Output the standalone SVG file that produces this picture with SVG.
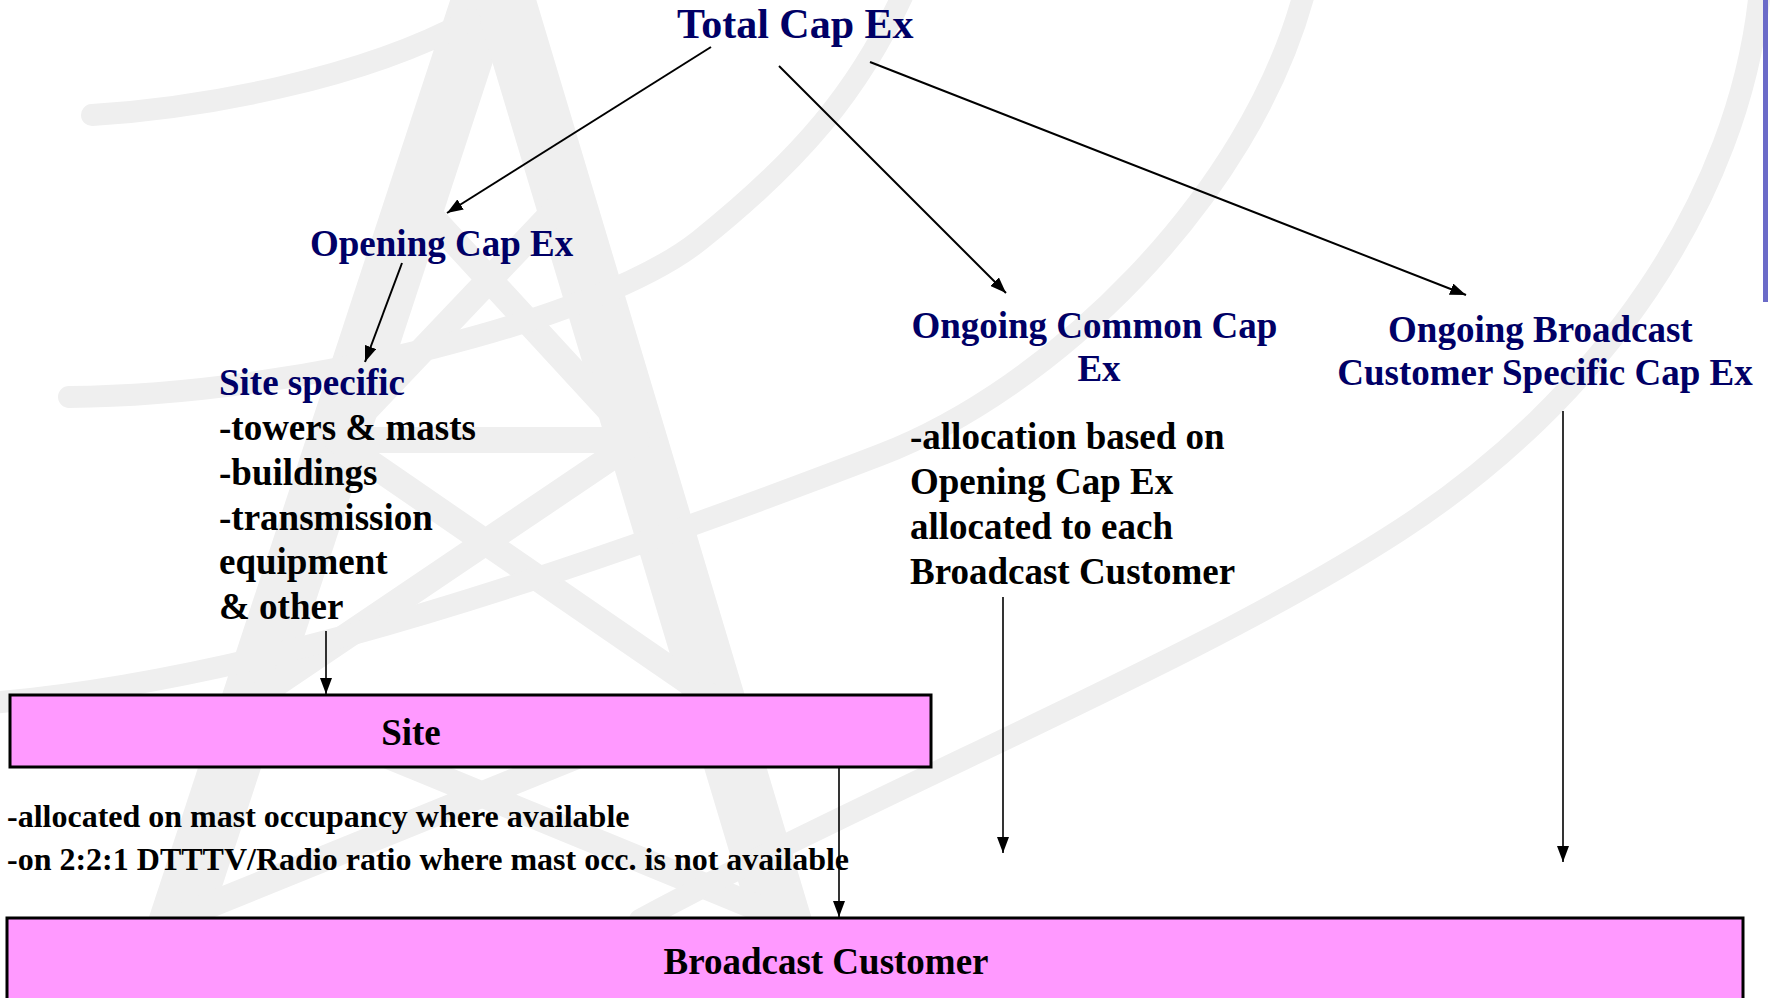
<svg xmlns="http://www.w3.org/2000/svg" width="1774" height="998" viewBox="0 0 1774 998">
<defs>
<style>
.wm{fill:none;stroke:#EFEFEF;stroke-linecap:round;stroke-linejoin:round}
.leg{stroke-width:60;stroke-linecap:butt}
.brace{stroke-width:26}
.arc{stroke-width:22}
.t{font-family:"Liberation Serif","Times New Roman",serif;font-weight:bold}
.navy{fill:#000066}
.blk{fill:#000000}
.box{fill:#FF99FF;stroke:#000000;stroke-width:3}
.con{stroke:#000000;fill:none}
</style>
<marker id="ah" markerWidth="16" markerHeight="12" refX="16" refY="6" orient="auto" markerUnits="userSpaceOnUse">
<path d="M0,0 L16,6 L0,12 z" fill="#000000"/>
</marker>
</defs>
<rect x="0" y="0" width="1774" height="998" fill="#FFFFFF"/>
<g id="watermark">
<path class="wm leg" d="M485,-10 L150,1010"/>
<path class="wm leg" d="M502,-10 L808,1010"/>
<path class="wm brace" d="M416,200 L637,440 M565,200 L337,440 M337,440 L637,440 M337,440 L715,700 M637,440 L252,700 M252,700 L780,917 M715,700 L180,917"/>
<path class="wm arc" d="M92,115 C200,108 360,80 470,20"/>
<path class="wm arc" d="M69,397 C300,395 600,320 700,240 S860,90 905,-10"/>
<path class="wm arc" d="M-10,703 C200,685 450,620 880,455 C1050,390 1250,200 1305,-10"/>
<path class="wm arc" d="M1760,-10 C1740,200 1600,400 1400,530 C1200,660 900,780 640,920"/>
</g>
<rect id="slide-edge" x="1763" y="0" width="5" height="302" fill="#6B6BC8"/>
<g id="connectors">
<line class="con" x1="711" y1="47" x2="447" y2="213" stroke-width="2" marker-end="url(#ah)"/>
<line class="con" x1="779" y1="66" x2="1006" y2="293" stroke-width="2" marker-end="url(#ah)"/>
<line class="con" x1="870" y1="62" x2="1466" y2="295" stroke-width="2" marker-end="url(#ah)"/>
<line class="con" x1="402" y1="263" x2="365" y2="362" stroke-width="2" marker-end="url(#ah)"/>
<line class="con" x1="326" y1="631" x2="326" y2="694" stroke-width="1.6" marker-end="url(#ah)"/>
<line class="con" x1="839" y1="767" x2="839" y2="917" stroke-width="1.6" marker-end="url(#ah)"/>
<line class="con" x1="1003" y1="597" x2="1003" y2="853" stroke-width="1.6" marker-end="url(#ah)"/>
<line class="con" x1="1563" y1="411" x2="1563" y2="862" stroke-width="1.6" marker-end="url(#ah)"/>
</g>
<g id="total-capex">
<text class="t navy" x="677" y="38" font-size="42">Total Cap Ex</text>
</g>
<g id="opening-capex">
<text class="t navy" x="310" y="256" font-size="37">Opening Cap Ex</text>
</g>
<g id="site-specific">
<text class="t navy" x="219" y="395" font-size="37">Site specific</text>
<text class="t blk" font-size="37">
<tspan x="219" y="440">-towers &amp; masts</tspan>
<tspan x="219" y="485">-buildings</tspan>
<tspan x="219" y="530">-transmission</tspan>
<tspan x="219" y="574">equipment</tspan>
<tspan x="219" y="619">&amp; other</tspan>
</text>
</g>
<g id="ongoing-common">
<text class="t navy" font-size="37" text-anchor="middle">
<tspan x="1099" y="338">Ongoing Common Cap</tspan>
<tspan x="1099" y="381">Ex</tspan>
</text>
<text class="t blk" font-size="37">
<tspan x="910" y="449">-allocation based on</tspan>
<tspan x="910" y="494">Opening Cap Ex</tspan>
<tspan x="910" y="539">allocated to each</tspan>
<tspan x="910" y="584">Broadcast Customer</tspan>
</text>
</g>
<g id="ongoing-broadcast">
<text class="t navy" font-size="37" text-anchor="middle">
<tspan x="1545" y="342">Ongoing Broadcast</tspan>
<tspan x="1545" y="385">Customer Specific Cap Ex</tspan>
</text>
</g>
<g id="site">
<rect class="box" x="10" y="695" width="921" height="72"/>
<text class="t blk" x="411" y="745" font-size="37" text-anchor="middle">Site</text>
</g>
<g id="site-notes">
<text class="t blk" font-size="32">
<tspan x="7" y="827">-allocated on mast occupancy where available</tspan>
<tspan x="7" y="870">-on 2:2:1 DTTTV/Radio ratio where mast occ. is not available</tspan>
</text>
</g>
<g id="broadcast-customer">
<rect class="box" x="7" y="918" width="1736" height="95"/>
<text class="t blk" x="826" y="974" font-size="37" text-anchor="middle">Broadcast Customer</text>
</g>
</svg>
